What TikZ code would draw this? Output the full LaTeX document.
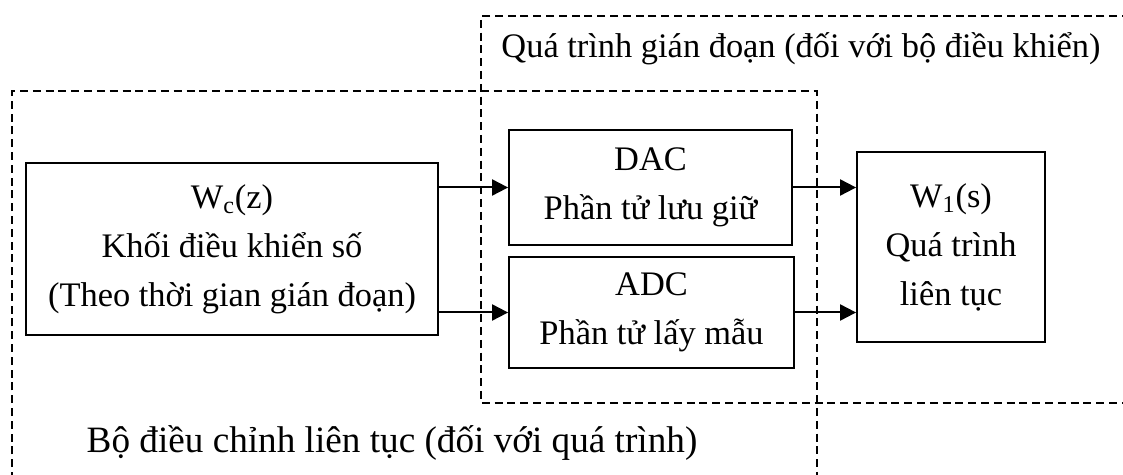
\documentclass[tikz,border=0pt]{standalone}
\usepackage{fontspec}
\setmainfont{Liberation Serif}
\usetikzlibrary{arrows.meta}

\begin{document}
\begin{tikzpicture}[x=0.5pt,y=-0.5pt,
  every node/.style={font=\fontsize{17.2}{24.5}\selectfont},
  block/.style={draw, line width=0.9pt, align=center, inner sep=0pt},
  frame/.style={line width=1pt, dash pattern=on 4pt off 2.4pt},
  arr/.style={line width=1pt, -{Triangle[length=8pt,width=8pt]}},
  lbl/.style={anchor=base, inner sep=0pt}]
  \useasboundingbox (0,0) rectangle (1123,475);

  % dashed frames, partly running off the page
  \draw[frame] (12.3,480) -- (12.3,91) -- (816.7,91) -- (816.7,480);
  \draw[frame] (1130,16) -- (481,16) -- (481,403) -- (1130,403);

  % frame captions
  \node[lbl] (tdis) at (801,58) {Quá trình gián đoạn (đối với bộ điều khiển)};
  \node[lbl, font=\fontsize{18.6}{24.5}\selectfont] (tcon) at (392,452)
    {Bộ điều chỉnh liên tục (đối với quá trình)};

  % blocks
  \node[block, minimum width=206pt, minimum height=86pt] (wc) at (232,249)
    {W\textsubscript{c}(z)\\Khối điều khiển số\\(Theo thời gian gián đoạn)};
  \node[block, minimum width=141.5pt, minimum height=57.5pt] (dac) at (650.5,187.5)
    {DAC\\Phần tử lưu giữ};
  \node[block, minimum width=142.5pt, minimum height=55.5pt] (adc) at (651.5,312.5)
    {ADC\\Phần tử lấy mẫu};
  \node[block, minimum width=94pt, minimum height=95pt] (w1) at (951,247)
    {W\textsubscript{1}(s)\\Quá trình\\liên tục};

  % signal connections
  \draw[arr] (wc.east |- dac.west) -- (dac.west);
  \draw[arr] (wc.east |- adc.west) -- (adc.west);
  \draw[arr] (dac.east) -- (dac.east -| w1.west);
  \draw[arr] (adc.east) -- (adc.east -| w1.west);
\end{tikzpicture}
\end{document}
